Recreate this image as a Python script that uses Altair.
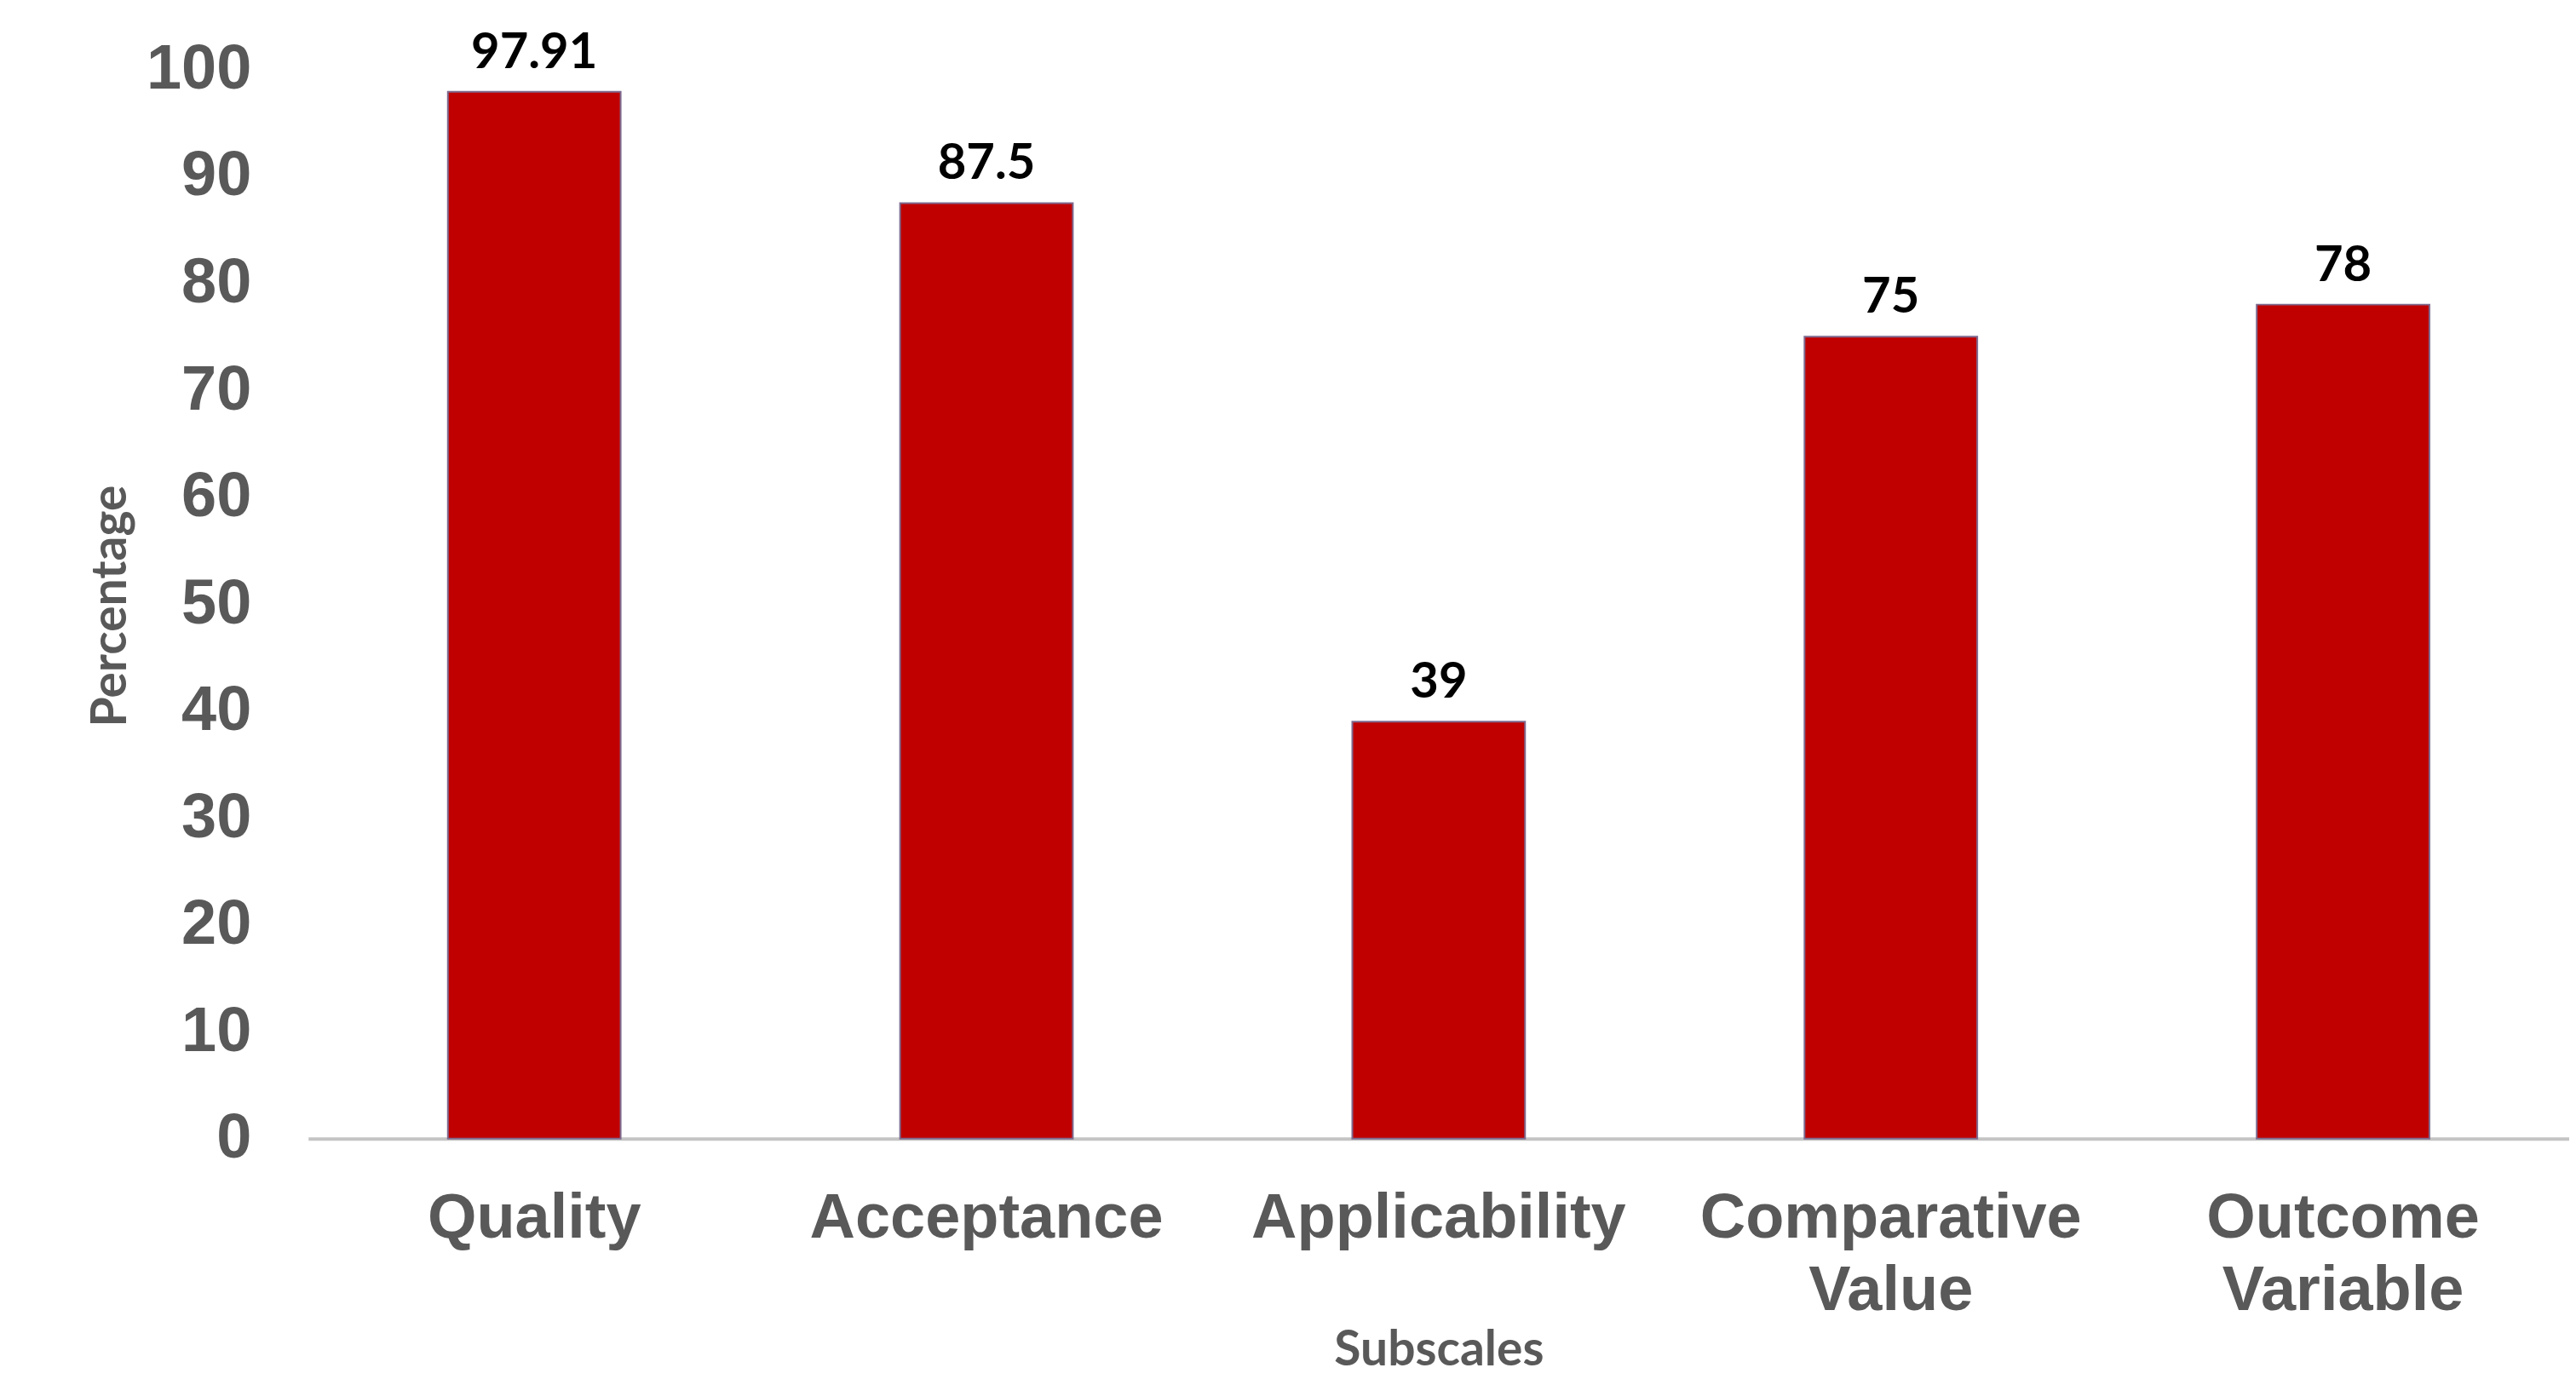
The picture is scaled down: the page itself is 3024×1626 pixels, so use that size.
import altair as alt
import pandas as pd

categories = ["Quality", "Acceptance", "Applicability", "Comparative Value", "Outcome Variable"]
values = [97.91, 87.5, 39, 75, 78]
value_labels = ["97.91", "87.5", "39", "75", "78"]
y_ticks = [0, 10, 20, 30, 40, 50, 60, 70, 80, 90, 100]

df = pd.DataFrame({"Subscale": categories, "Percentage": values, "Label": value_labels})

x_enc = alt.X(
    "Subscale:N",
    sort=categories,
    scale=alt.Scale(paddingInner=0.618, paddingOuter=0.309),
    axis=alt.Axis(
        title="Subscales",
        labelAngle=0,
        labelExpr="split(datum.label, ' ')",
        labelFont="Liberation Sans",
        labelFontWeight="bold",
        labelFontSize=74,
        labelColor="#595959",
        labelBaseline="alphabetic",
        labelLineHeight=85,
        labelPadding=116,
        labelLimit=0,
        labelOverlap=False,
        ticks=False,
        domain=True,
        domainColor="#C4C4C4",
        domainWidth=4,
        grid=False,
        titleFont="Lato",
        titleFontWeight="bold",
        titleFontSize=57,
        titleColor="#595959",
        titleBaseline="alphabetic",
        titleAlign="center",
        titleX=1328,
        titleY=266,
    ),
)

y_enc = alt.Y(
    "Percentage:Q",
    scale=alt.Scale(domain=[0, 100], nice=False),
    axis=alt.Axis(
        title="Percentage",
        values=y_ticks,
        labelFont="Liberation Sans",
        labelFontWeight="bold",
        labelFontSize=74,
        labelColor="#595959",
        labelPadding=67,
        labelLimit=0,
        ticks=False,
        domain=False,
        grid=False,
        titleFont="Lato",
        titleFontWeight="bold",
        titleFontSize=57,
        titleColor="#595959",
        titleAngle=270,
        titleBaseline="alphabetic",
        titleAlign="center",
        titleX=-214,
        titleY=630,
    ),
)

bars = alt.Chart(df).mark_bar(
    color="#C00000", stroke="#7E6A8F", strokeWidth=2
).encode(x=x_enc, y=y_enc)

labels = alt.Chart(df).mark_text(
    font="Lato", fontWeight="bold", fontSize=58, color="#000000",
    baseline="alphabetic", align="center", dy=-28
).encode(
    x=alt.X("Subscale:N", sort=categories),
    y=alt.Y("Percentage:Q"),
    text="Label:N",
)

chart = alt.layer(bars, labels).properties(
    width=2656,
    height=1256,
    autosize=alt.AutoSizeParams(type="none"),
    padding={"left": 354, "top": 73, "right": 0, "bottom": 288},
).configure(background="white").configure_view(stroke=None)

chart.save("out.html", embed_options={"renderer": "svg", "actions": False})
